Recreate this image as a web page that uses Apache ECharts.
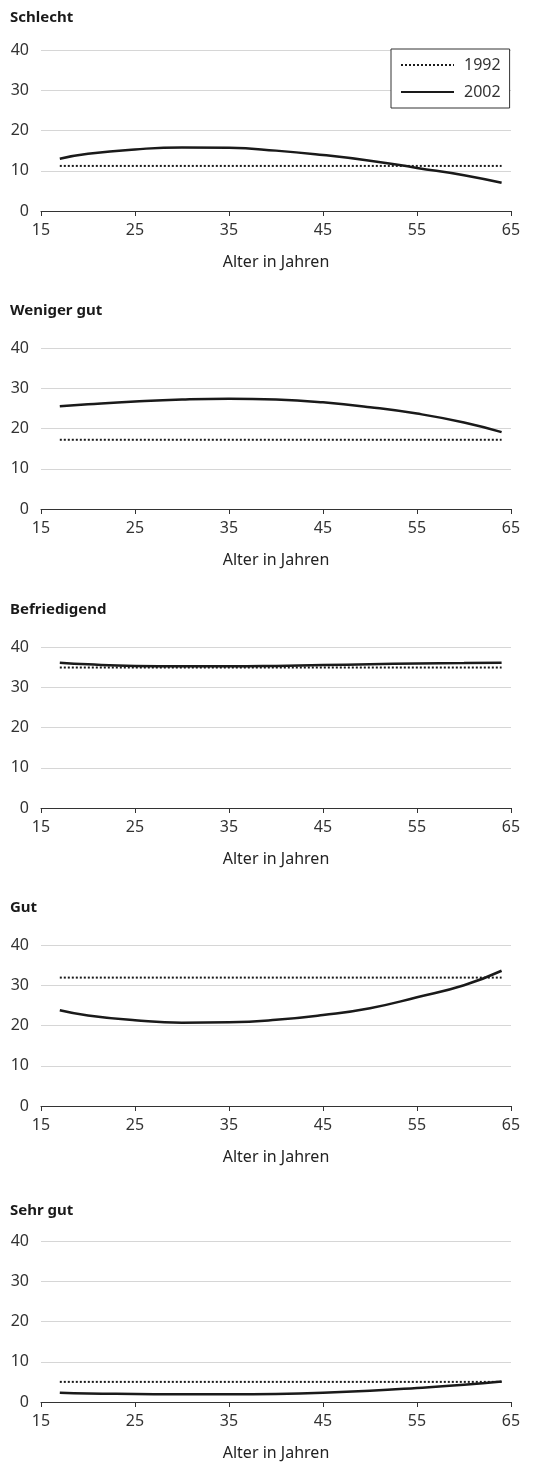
<!DOCTYPE html>
<html>
<head>
<meta charset="utf-8">
<script src="https://cdn.jsdelivr.net/npm/echarts@6/dist/echarts.min.js"></script>
<style>
html,body{margin:0;padding:0;background:#fff;}
#c{width:534px;height:1462px;}
</style>
</head>
<body>
<div id="c"></div>
<script>
// ---- data ----
const panelTitles = ['Schlecht', 'Weniger gut', 'Befriedigend', 'Gut', 'Sehr gut'];
const xTickLabels = [15, 25, 35, 45, 55, 65];
const yTickLabels = [0, 10, 20, 30, 40];
const ages = [17, 20, 25, 30, 35, 40, 45, 50, 55, 60, 64];
const ageRange1992 = [17, 64];

const schlecht2002     = [13.0, 14.2, 15.3, 15.8, 15.7, 15.0, 13.9, 12.5, 10.7, 8.9, 7.0];
const wenigerGut2002   = [25.5, 26.0, 26.7, 27.2, 27.4, 27.2, 26.5, 25.3, 23.7, 21.5, 19.1];
const befriedigend2002 = [36.1, 35.7, 35.3, 35.2, 35.2, 35.3, 35.5, 35.7, 35.9, 36.0, 36.1];
const gut2002          = [23.8, 22.5, 21.3, 20.7, 20.8, 21.4, 22.6, 24.3, 27.0, 30.0, 33.6];
const sehrGut2002      = [2.3, 2.1, 2.0, 1.9, 1.9, 2.0, 2.3, 2.8, 3.5, 4.3, 5.1];

const schlecht1992     = 11.2;
const wenigerGut1992   = 17.2;
const befriedigend1992 = 34.9;
const gut1992          = 31.9;
const sehrGut1992      = 5.0;

const series2002 = [schlecht2002, wenigerGut2002, befriedigend2002, gut2002, sehrGut2002];
const series1992 = [schlecht1992, wenigerGut1992, befriedigend1992, gut1992, sehrGut1992];
const legendNames = ['1992', '2002'];

// ---- layout ----
const FONT = '"Noto Sans", "DejaVu Sans", sans-serif';
const gridTops = [50, 348, 647, 945, 1241];
const gridHeight = 161;
const titleTops = [5, 298, 597, 895, 1198];

const grids = [], xAxes = [], yAxes = [], titles = [], series = [];
for (let i = 0; i < 5; i++) {
  grids.push({left: 41, width: 470, top: gridTops[i], height: gridHeight, containLabel: false});
  titles.push({
    text: panelTitles[i], left: 5, top: titleTops[i],
    textStyle: {fontFamily: FONT, fontSize: 15, fontWeight: 'bold', color: '#1a1a1a'}
  });
  xAxes.push({
    type: 'value', gridIndex: i, min: xTickLabels[0], max: xTickLabels[xTickLabels.length - 1], interval: 10,
    name: 'Alter in Jahren', nameLocation: 'middle', nameGap: 43,
    nameTextStyle: {fontFamily: FONT, fontSize: 16, color: '#222'},
    axisLine: {show: true, lineStyle: {color: '#333', width: 1}},
    axisTick: {show: true, inside: false, length: 5, lineStyle: {color: '#333'}},
    axisLabel: {fontFamily: FONT, fontSize: 16, color: '#333', margin: 11},
    splitLine: {show: false}
  });
  yAxes.push({
    type: 'value', gridIndex: i, min: yTickLabels[0], max: yTickLabels[yTickLabels.length - 1], interval: 10,
    axisLine: {show: false}, axisTick: {show: false},
    axisLabel: {fontFamily: FONT, fontSize: 16, color: '#333', margin: 12},
    splitLine: {show: true, lineStyle: {color: '#d6d6d6', width: 1}}
  });
  series.push({
    name: legendNames[0], type: 'line', xAxisIndex: i, yAxisIndex: i,
    data: ageRange1992.map(a => [a, series1992[i]]),
    symbol: 'none', showSymbol: false, silent: true, z: 2,
    lineStyle: {color: '#1a1a1a', width: 2, type: [2, 2]}
  });
  series.push({
    name: legendNames[1], type: 'line', xAxisIndex: i, yAxisIndex: i,
    data: ages.map((a, k) => [a, series2002[i][k]]),
    symbol: 'none', showSymbol: false, smooth: 0.5, silent: true, z: 3,
    lineStyle: {color: '#1a1a1a', width: 2.5, type: 'solid'}
  });
}

const chart = echarts.init(document.getElementById('c'), null, {renderer: 'canvas'});
chart.setOption({
  animation: false,
  backgroundColor: '#fff',
  title: titles,
  grid: grids,
  xAxis: xAxes,
  yAxis: yAxes,
  legend: {
    data: legendNames,
    orient: 'vertical',
    left: 391, top: 49,
    padding: [8, 9, 8, 9],
    itemWidth: 53, itemHeight: 14, itemGap: 11,
    borderColor: '#333', borderWidth: 1,
    backgroundColor: '#fff',
    selectedMode: false,
    textStyle: {fontFamily: FONT, fontSize: 16, color: '#333', padding: [0, 0, 0, 5]},
    itemStyle: {opacity: 0}
  },
  series: series
});
</script>
</body>
</html>
